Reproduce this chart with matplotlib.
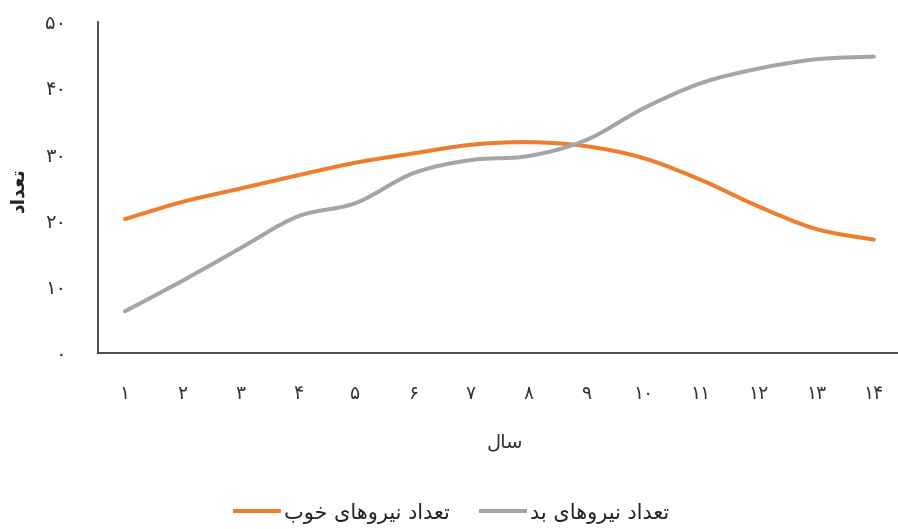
import matplotlib
matplotlib.use("Agg")
import matplotlib.pyplot as plt
from matplotlib.path import Path
from matplotlib.patches import PathPatch
from matplotlib.lines import Line2D
import numpy as np

# ---- data ----
years = list(range(1, 15))
year_labels = ["۱", "۲", "۳", "۴", "۵", "۶", "۷", "۸", "۹", "۱۰", "۱۱", "۱۲", "۱۳", "۱۴"]
good_forces = [20.2, 22.8, 24.8, 26.8, 28.7, 30.1, 31.4, 31.8, 31.2, 29.4, 26.1, 22.1, 18.7, 17.1]
bad_forces = [6.3, 10.9, 15.8, 20.6, 22.6, 27.1, 29.1, 29.7, 32.1, 36.9, 40.7, 42.9, 44.3, 44.7]
y_ticks = [0, 10, 20, 30, 40, 50]
y_tick_labels = ["۰", "۱۰", "۲۰", "۳۰", "۴۰", "۵۰"]
label_good = "تعداد نیروهای خوب"
label_bad = "تعداد نیروهای بد"
label_x = "سال"
label_y = "تعداد"

ORANGE = "#ED7D31"
GRAY = "#A5A5A5"

# ---- minimal Persian shaping (presentation forms, right-to-left) ----
FORMS = {
    'ا': ('\uFE8D', '\uFE8E', None, None),
    'ب': ('\uFE8F', '\uFE90', '\uFE91', '\uFE92'),
    'ت': ('\uFE95', '\uFE96', '\uFE97', '\uFE98'),
    'خ': ('\uFEA5', '\uFEA6', '\uFEA7', '\uFEA8'),
    'د': ('\uFEA9', '\uFEAA', None, None),
    'ر': ('\uFEAD', '\uFEAE', None, None),
    'س': ('\uFEB1', '\uFEB2', '\uFEB3', '\uFEB4'),
    'ع': ('\uFEC9', '\uFECA', '\uFECB', '\uFECC'),
    'ل': ('\uFEDD', '\uFEDE', '\uFEDF', '\uFEE0'),
    'ن': ('\uFEE5', '\uFEE6', '\uFEE7', '\uFEE8'),
    'ه': ('\uFEE9', '\uFEEA', '\uFEEB', '\uFEEC'),
    'و': ('\uFEED', '\uFEEE', None, None),
    'ی': ('\uFEEF', '\uFEF0', '\uFEF3', '\uFEF4'),
}


def shape(text):
    out = []
    n = len(text)
    for i, ch in enumerate(text):
        if ch not in FORMS:
            out.append(ch)
            continue
        prev = text[i - 1] if i > 0 else None
        nxt = text[i + 1] if i < n - 1 else None
        joins_prev = prev in FORMS and FORMS[prev][2] is not None
        joins_next = nxt in FORMS and FORMS[ch][2] is not None
        iso, fin, ini, med = FORMS[ch]
        if joins_prev and joins_next:
            out.append(med)
        elif joins_prev:
            out.append(fin)
        elif joins_next:
            out.append(ini)
        else:
            out.append(iso)
    return "".join(reversed(out))


def smooth_path(xs, ys):
    """Cubic Bezier path through the points (Catmull-Rom style control points)."""
    pts = np.column_stack([xs, ys]).astype(float)
    verts = [pts[0]]
    codes = [Path.MOVETO]
    n = len(pts)
    for i in range(n - 1):
        p0 = pts[i - 1] if i > 0 else pts[i]
        p1 = pts[i]
        p2 = pts[i + 1]
        p3 = pts[i + 2] if i + 2 < n else pts[i + 1]
        c1 = p1 + (p2 - p0) / 6.0
        c2 = p2 - (p3 - p1) / 6.0
        verts += [c1, c2, p2]
        codes += [Path.CURVE4] * 3
    return Path(verts, codes)


plt.rcParams['font.family'] = ['DejaVu Sans']

fig = plt.figure(figsize=(8.98, 5.29), dpi=100)
ax = fig.add_axes([98 / 898, 1 - 353 / 529, 800 / 898, (353 - 21.5) / 529])

for series, color in ((good_forces, ORANGE), (bad_forces, GRAY)):
    patch = PathPatch(smooth_path(years, series), facecolor="none", edgecolor=color,
                      lw=2.9, capstyle="round", joinstyle="round")
    ax.add_patch(patch)

ax.set_xlim(0.531, 14.42)
ax.set_ylim(0, 50)

ax.set_xticks(years)
ax.set_xticklabels(year_labels, fontsize=13.5, color="#333333")
ax.set_yticks(y_ticks)
ax.set_yticklabels(y_tick_labels, fontsize=14, color="#333333")
ax.tick_params(axis="both", length=0)
ax.tick_params(axis="y", pad=23)
ax.tick_params(axis="x", pad=22)

for side in ("top", "right"):
    ax.spines[side].set_visible(False)
for side in ("left", "bottom"):
    ax.spines[side].set_color("#404040")
    ax.spines[side].set_linewidth(1.3)

ax.set_xlabel(shape(label_x), fontsize=14, color="#333333")
ax.xaxis.set_label_coords((505 - 98) / 800, -(432 - 353) / (353 - 21.5))
ax.set_ylabel(shape(label_y), fontsize=13.5, color="#222222", fontweight="bold")
ax.yaxis.set_label_coords(-(98 - 27) / 800, (353 - 190) / (353 - 21.5))

handles = [Line2D([], [], color=ORANGE, lw=2.9), Line2D([], [], color=GRAY, lw=2.9)]
fig.legend(handles, [shape(label_good), shape(label_bad)], loc="center",
           bbox_to_anchor=(452 / 898, 1 - 513 / 529), ncol=2, frameon=False,
           fontsize=15, handlelength=2.1, handletextpad=0.25, columnspacing=1.5,
           labelcolor="#222222")

fig.savefig("out.png", dpi=100)
